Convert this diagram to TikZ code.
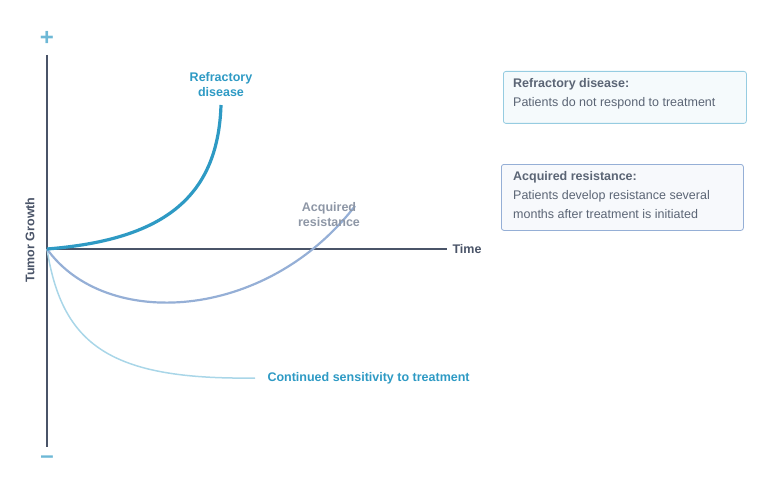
\documentclass[tikz,border=0pt]{standalone}
\usepackage{fontspec}
\setmainfont{Liberation Sans}
\definecolor{ax}{HTML}{4A5468}
\definecolor{ref}{HTML}{2E9AC4}
\definecolor{acq}{HTML}{95AFD6}
\definecolor{cont}{HTML}{A9D6E8}
\definecolor{acqt}{HTML}{8E97A6}
\definecolor{boxtxt}{HTML}{5B6575}
\begin{document}
\begin{tikzpicture}[x=1pt,y=-1pt,
  lbl/.style={font=\bfseries\fontsize{12.5}{15}\selectfont,align=center},
  bx/.style={draw,rounded corners=2.5pt,line width=0.8pt,anchor=north west},
  bt/.style={anchor=north west,inner sep=0pt,align=left,text=boxtxt,font=\fontsize{12.5}{19}\selectfont}]
\useasboundingbox (0,0) rectangle (771,492);
\coordinate (o) at (47,249);
\coordinate (top) at (47,55);
\coordinate (bot) at (47,447);
\coordinate (xe) at (447,249);
\draw[ax,line width=1.6pt] (top) -- (bot);
\draw[ax,line width=1.6pt] (o) -- (xe);
\node[ax,font=\bfseries\fontsize{12.5}{14}\selectfont,anchor=west] (time) at (449,249) {Time};
\node[ref!70,font=\bfseries\fontsize{24}{24}\selectfont] (plus) at (47,38) {+};
\node[ref!70,font=\bfseries\fontsize{24}{24}\selectfont] (minus) at (47,460) {\textendash};
\node[ax,rotate=90,font=\bfseries\fontsize{12.5}{14}\selectfont] (yl) at (30,240) {Tumor Growth};
\coordinate (r1) at (221,105);
\coordinate (a1) at (355,206);
\coordinate (c1) at (255,378);
\draw[cont,line width=1.5pt] (o) .. controls (62,345) and (110,380) .. (c1);
\draw[acq,line width=2.2pt] (o) .. controls (105,330) and (265,322) .. (a1);
\draw[ref,line width=3.2pt] (o) .. controls (160,240) and (218,200) .. (r1);
\node[lbl,ref] (rl) at (221,85) {Refractory\\disease};
\node[lbl,acqt] (al) at (329,215) {Acquired\\resistance};
\node[lbl,ref,anchor=west] (cl) at (264,378) {Continued sensitivity to treatment};
\node[bx,draw=ref!50,fill=ref!5,minimum width=243pt,minimum height=52pt] (b1) at (503,71) {};
\node[bt] (t1) at (513,78) {\textbf{Refractory disease:}\\Patients do not respond to treatment};
\node[bx,draw=acq,fill=acq!8,minimum width=242pt,minimum height=66pt] (b2) at (501,164) {};
\node[bt] (t2) at (513,171) {\textbf{Acquired resistance:}\\Patients develop resistance several\\months after treatment is initiated};
\end{tikzpicture}
\end{document}
